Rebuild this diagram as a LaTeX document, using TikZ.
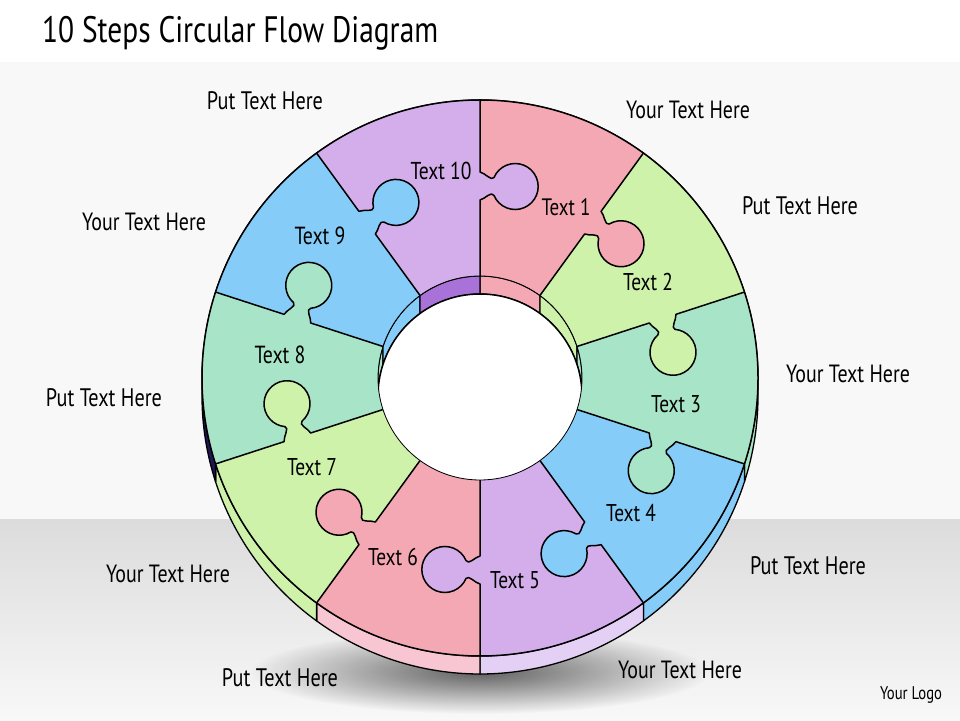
\documentclass[tikz,border=0pt]{standalone}
\usepackage{fontspec}
\newfontfamily\hand[FakeStretch=0.8]{PT Sans}
\usetikzlibrary{fadings}
\definecolor{cpink}{HTML}{F4A8B4}
\definecolor{cgreen}{HTML}{CEF2AA}
\definecolor{cteal}{HTML}{A8E5C8}
\definecolor{cblue}{HTML}{86CCF8}
\definecolor{cpurple}{HTML}{D3AEEB}
\definecolor{wpurple}{HTML}{A972D8}
\definecolor{spink}{HTML}{F8C6D3}
\definecolor{spurple}{HTML}{E4D0F4}
\definecolor{snavy}{HTML}{1E1656}
\definecolor{bgband}{HTML}{F8F8F8}
\definecolor{bgfloor}{HTML}{DCDCDC}
\newcommand\rsz[2]{\resizebox{#1pt}{!}{#2}}
\tikzfading[name=softshadow, inner color=transparent!0, outer color=transparent!100]
\begin{document}
\begin{tikzpicture}[x=1pt,y=1pt,line join=round,
  lbl/.style={inner sep=0pt,font=\hand},
  edge/.style={draw=black,line width=1.5pt}]
\useasboundingbox (0,0) rectangle (960,720);
% background
\fill[white] (0,0) rectangle (960,720);
\fill[bgband] (0,200) rectangle (960,658);
\shade[top color=bgfloor,bottom color=bgband] (0,0) rectangle (960,200);
% shadow
\fill[black,opacity=0.6,path fading=softshadow] (480,48) ellipse[x radius=230pt,y radius=42pt];
\begin{scope}[shift={(480,342)}]
  % side bands (thickness)
  \foreach \i/\scol in {1/spink,2/cgreen,3/cteal,4/cblue,5/spurple,6/spink,7/cgreen,8/snavy,9/cblue,10/spurple}{
    \pgfmathsetmacro\b{90-36*(\i-1)}
    \pgfmathsetmacro\a{\b-36}
    \filldraw[fill=\scol,draw=black,line width=1.3pt] (\a:278) arc[start angle=\a,end angle=\b,radius=278pt] -- ++(0,-18) arc[start angle=\b,end angle=\a,radius=278pt] -- cycle;
  }
  % top face sectors
  \foreach \i/\col in {1/cpink,2/cgreen,3/cteal,4/cblue,5/cpurple,6/cpink,7/cgreen,8/cteal,9/cblue,10/cpurple}{
    \pgfmathsetmacro\b{90-36*(\i-1)}
    \pgfmathsetmacro\a{\b-36}
    \fill[\col] (\a:102) -- (\a:278) arc[start angle=\a,end angle=\b,radius=278pt] -- (\b:102) arc[start angle=\b,end angle=\a,radius=102pt] -- cycle;
  }
  % knobs and boundaries
  \foreach \b/\kc in {90/cpurple,54/cpink,18/cgreen,-18/cteal,-54/cblue,-90/cpurple,-126/cpink,-162/cgreen,-198/cteal,-234/cblue}{
    \begin{scope}[rotate=\b]
      \fill[\kc] (178,1) -- (178,0) .. controls (179,-5) and (187.5,-11.5) .. (182.5,-14) arc[start angle=113,end angle=427,radius=23pt] .. controls (196.5,-11.5) and (205,-5) .. (206,0) -- (206,1) -- cycle;
      \draw[edge] (102,0) -- (178,0) .. controls (179,-5) and (187.5,-11.5) .. (182.5,-14) arc[start angle=113,end angle=427,radius=23pt] .. controls (196.5,-11.5) and (205,-5) .. (206,0) -- (278,0);
    \end{scope}
  }
  \draw[edge] (0,0) circle[radius=278pt];
  % inner wall and hole
  \begin{scope}
    \clip (0,0) circle[radius=102pt];
    \foreach \i/\col in {1/cpink,2/cgreen,3/cteal,4/cblue,5/cpurple,6/cpink,7/cgreen,8/cteal,9/cblue,10/wpurple}{
      \pgfmathsetmacro\b{90-36*(\i-1)}
      \pgfmathsetmacro\a{\b-36}
      \filldraw[fill=\col,draw=black,line width=1.2pt] (\a:102) arc[start angle=\a,end angle=\b,radius=102pt] -- ++(0,-18) arc[start angle=\b,end angle=\a,radius=102pt] -- cycle;
    }
    \filldraw[fill=white,draw=black,line width=1.5pt] (0,-18) circle[radius=102pt];
  \end{scope}
  \draw[black,line width=0.8pt] (0,0) circle[radius=102pt];
\end{scope}
% title
\node[lbl,anchor=base west] (title) at (42,677) {\rsz{396}{10 Steps Circular Flow Diagram}};
% outer labels
\node[lbl] (o1) at (265,619) {\rsz{116}{Put Text Here}};
\node[lbl] (o2) at (688,610) {\rsz{124}{Your Text Here}};
\node[lbl] (o3) at (800,514) {\rsz{116}{Put Text Here}};
\node[lbl] (o4) at (848,346) {\rsz{124}{Your Text Here}};
\node[lbl] (o5) at (808,154) {\rsz{116}{Put Text Here}};
\node[lbl] (o6) at (680,50) {\rsz{124}{Your Text Here}};
\node[lbl] (o7) at (280,42) {\rsz{116}{Put Text Here}};
\node[lbl] (o8) at (168,146) {\rsz{124}{Your Text Here}};
\node[lbl] (o9) at (104,322) {\rsz{116}{Put Text Here}};
\node[lbl] (o10) at (144,498) {\rsz{124}{Your Text Here}};
\node[lbl,anchor=base] (logo) at (911,21) {\rsz{62}{Your Logo}};
% piece labels
\node[lbl] (p10) at (441,549) {\rsz{61}{Text 10}};
\node[lbl] (p1) at (566,513) {\rsz{49}{Text 1}};
\node[lbl] (p2) at (648,438) {\rsz{50}{Text 2}};
\node[lbl] (p3) at (676,316) {\rsz{50}{Text 3}};
\node[lbl] (p4) at (631,207) {\rsz{50}{Text 4}};
\node[lbl] (p5) at (515,140) {\rsz{50}{Text 5}};
\node[lbl] (p6) at (393,163) {\rsz{50}{Text 6}};
\node[lbl] (p7) at (312,253) {\rsz{50}{Text 7}};
\node[lbl] (p8) at (280,365) {\rsz{51}{Text 8}};
\node[lbl] (p9) at (320,484) {\rsz{51}{Text 9}};
\end{tikzpicture}
\end{document}
